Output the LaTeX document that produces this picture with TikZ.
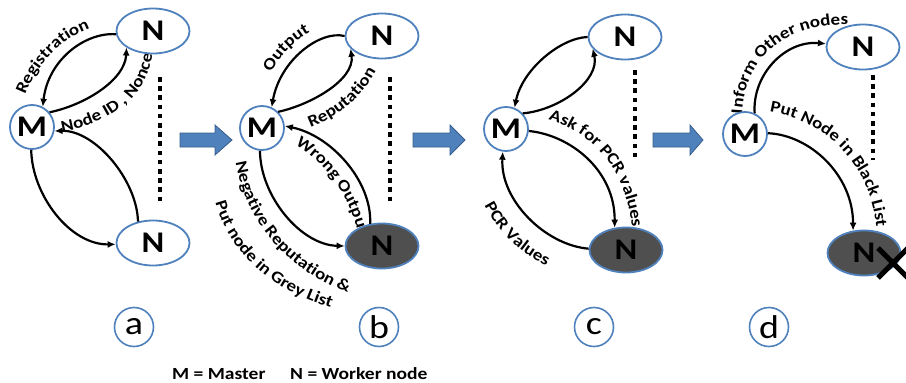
\documentclass[tikz,border=0pt]{standalone}
\usepackage{fontspec}
\usetikzlibrary{shapes.geometric,arrows.meta,decorations.text}
\newfontfamily\clb[FakeStretch=1.15]{Carlito}
\newcommand\nfont{\clb\bfseries\fontsize{30}{30}\selectfont}
\newcommand\lfont{\clb\bfseries\fontsize{16.5}{16.5}\selectfont}
\newcommand\tagfont{\clb\fontsize{33}{33}\selectfont}
\newcommand\legfont{\clb\bfseries\fontsize{17}{17}\selectfont}
\definecolor{obblue}{HTML}{4F81BD}
\definecolor{obdark}{HTML}{385D8A}
\definecolor{badgrey}{HTML}{4F4F4F}
\pgfdeclarelayer{bg}
\pgfsetlayers{bg,main}
\tikzset{
  nnode/.style={ellipse,draw=obblue,line width=1.8pt,fill=white,minimum width=73pt,minimum height=45pt,inner sep=0pt,font=\nfont},
  bad/.style={fill=badgrey},
  mnode/.style={circle,draw=obblue,line width=1.8pt,fill=white,minimum size=44pt,inner sep=0pt,font=\nfont},
  conn/.style={line width=2.2pt,-{Latex[length=8pt,width=7pt]}},
  dots/.style={line width=4.6pt,dash pattern=on 4.6pt off 4.6pt},
  tag/.style={circle,draw=obblue,line width=1.6pt,minimum size=39pt,inner sep=0pt,font=\tagfont},
  blockarrow/.style={fill=obblue,draw=obdark,line width=0.8pt},
  lbl/.style={decorate,decoration={text along path,text align=center,text={|\lfont|#1}}},
  legend/.style={anchor=base west,inner sep=0pt,font=\legfont}
}
\begin{document}
\begin{tikzpicture}[x=1pt,y=-1pt]
\useasboundingbox (0,0) rectangle (906,383);

% nodes
\node[nnode] (Na1) at (153,31) {N};
\node[mnode] (Ma) at (32,127) {M};
\node[nnode] (Na2) at (153,243) {N};
\node[nnode] (Nb1) at (382,36) {N};
\node[mnode] (Mb) at (262,128) {M};
\node[nnode,bad] (Nb2) at (382,246) {N};
\node[nnode] (Nc1) at (625,37) {N};
\node[mnode] (Mc) at (506,129) {M};
\node[nnode,bad] (Nc2) at (626,250) {N};
\node[nnode] (Nd1) at (863,47) {N};
\node[mnode] (Md) at (745,134) {M};
\node[nnode,bad] (Nd2) at (864,253) {N};

% labels along curves
\begin{pgfonlayer}{bg}
\path[lbl={Registration}] (23,101) .. controls (33,70) and (58,38) .. (96,26);
\path[lbl={Node ID , Nonce}] (56,133) .. controls (101,126) and (150,102) .. (153,48);
\path[lbl={Output}] (266,82) .. controls (276,60) and (294,38) .. (320,28);
\path[lbl={Reputation}] (302,130) .. controls (331,121) and (362,102) .. (380,63);
\path[lbl={Wrong Output}] (291,142) .. controls (318,157) and (348,187) .. (360,240);
\path[lbl={Negative Reputation {\&}}] (234,150) .. controls (240,212) and (280,272) .. (360,297);
\path[lbl={Put node in Grey List}] (212,183) .. controls (218,242) and (265,294) .. (350,313);
\path[lbl={Ask for PCR values}] (534,116) .. controls (590,126) and (631,170) .. (633,242);
\path[lbl={PCR Values}] (480,196) .. controls (493,226) and (514,252) .. (556,270);
\path[lbl={Inform Other nodes}] (742,120) .. controls (742,55) and (790,21) .. (854,25);
\path[lbl={Put Node in Black List}] (755,110) .. controls (822,114) and (877,165) .. (877,242);
\end{pgfonlayer}

% connectors panel a
\draw[conn] (Na1.185) .. controls (85,32) and (48,60) .. (Ma.62);
\draw[conn] (Ma.40) .. controls (85,105) and (125,80) .. (Na1.212);
\draw[conn] (Ma.268) .. controls (32,195) and (70,245) .. (Na2.182);
\draw[conn] (Na2.125) .. controls (137,180) and (95,130) .. (Ma.350);
% panel b
\draw[conn] (Nb1.180) .. controls (320,30) and (280,60) .. (Mb.65);
\draw[conn] (Mb.45) .. controls (310,105) and (355,80) .. (Nb1.202);
\draw[conn] (Nb2.118) .. controls (372,180) and (330,135) .. (Mb.5);
\draw[conn] (Mb.265) .. controls (260,195) and (300,245) .. (Nb2.180);
% panel c
\draw[conn] (Nc1.180) .. controls (560,38) and (522,70) .. (Mc.68);
\draw[conn] (Mc.43) .. controls (560,110) and (600,80) .. (Nc1.200);
\draw[conn] (Mc.355) .. controls (570,135) and (615,170) .. (Nc2.117);
\draw[conn] (Nc2.178) .. controls (545,245) and (500,200) .. (Mc.262);
% panel d
\draw[conn] (Md.65) .. controls (752,75) and (785,40) .. (Nd1.175);
\draw[conn] (Md.2) .. controls (810,135) and (853,175) .. (Nd2.116);

% dotted lines
\draw[dots] (160,77) -- (160,205);
\draw[dots] (390,77) -- (390,205);
\draw[dots] (635,70) -- (635,157);
\draw[dots] (873,75) -- (873,160);

% block arrows
\draw[blockarrow] (180,133) -- (215,133) -- (215,125) -- (232,140) -- (215,155) -- (215,147) -- (180,147) -- cycle;
\draw[blockarrow] (413,133) -- (450,133) -- (450,125) -- (465,140) -- (450,155) -- (450,147) -- (413,147) -- cycle;
\draw[blockarrow] (653,133) -- (690,133) -- (690,125) -- (703,140) -- (690,155) -- (690,147) -- (653,147) -- cycle;

% cross
\draw[line width=5pt] (878,248) -- (908,278) (908,248) -- (878,278);

% tags
\node[tag] (ta) at (134,327) {a};
\node[tag] (tb) at (379,327) {b};
\node[tag] (tc) at (594,327) {c};
\node[tag] (td) at (769,327) {d};

% legend
\node[legend] (l1) at (172,379) {M = Master};
\node[legend] (l2) at (290,379) {N = Worker node};
\end{tikzpicture}
\end{document}
